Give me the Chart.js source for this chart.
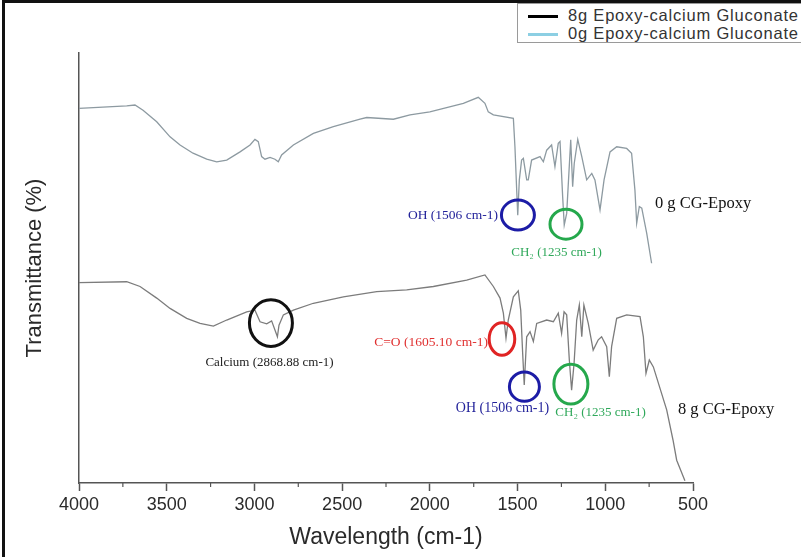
<!DOCTYPE html>
<html>
<head>
<meta charset="utf-8">
<script src="https://cdn.jsdelivr.net/npm/chart.js@4.4.1/dist/chart.umd.min.js"></script>
<style>
  html, body { margin: 0; padding: 0; background: #fff; }
  #wrap { position: relative; width: 801px; height: 557px; overflow: hidden; }
  #frame { position: absolute; left: 2px; top: 0; width: 830px; height: 600px; border-left: 3px solid #111; border-top: 3px solid #111; pointer-events: none; }
  #legend { position: absolute; left: 517px; top: 3px; width: 300px; height: 38px; border: 1px solid #9a9a9a; background: #fff; font: 16.5px "Liberation Sans", Arial, sans-serif; letter-spacing: 0.8px; color: #333; }
  .item { position: absolute; left: 10px; height: 18px; line-height: 18px; white-space: nowrap; }
  .swatch { display: inline-block; width: 30px; height: 3px; vertical-align: middle; margin-right: 10px; }
</style>
</head>
<body>
<div id="wrap">
  <canvas id="ftir" width="801" height="557"></canvas>
  <div id="frame"></div>
  <div id="legend"></div>
</div>
<script>
// 0 g sample (upper trace)
const waves0 = [4000, 3728, 3681, 3635, 3557, 3481, 3424, 3350, 3272, 3215, 3158, 3082, 3025, 2997, 2978, 2959, 2940, 2911, 2883, 2864, 2845, 2778, 2664, 2550, 2398, 2360, 2208, 2113, 2000, 1809, 1724, 1686, 1667, 1638, 1524, 1515, 1505, 1499, 1490, 1477, 1467, 1448, 1439, 1420, 1372, 1353, 1334, 1306, 1287, 1268, 1258, 1243, 1234, 1220, 1197, 1186, 1177, 1157, 1134, 1106, 1077, 1059, 1030, 1007, 973, 935, 878, 850, 831, 821, 806, 792, 764, 736];
const trans0 = [87.1, 87.7, 87.9, 86.7, 84.0, 80.5, 78.6, 76.7, 75.3, 74.7, 75.1, 77.0, 78.6, 79.9, 79.4, 75.9, 75.3, 75.7, 75.3, 74.7, 76.3, 78.6, 81.3, 82.9, 84.6, 85.0, 84.6, 85.6, 86.3, 88.3, 89.7, 88.3, 86.3, 85.6, 84.8, 78.2, 68.1, 62.3, 70.5, 75.1, 75.5, 70.5, 70.5, 75.1, 75.9, 74.7, 77.4, 78.6, 73.6, 79.0, 79.4, 66.6, 60.0, 62.7, 79.8, 68.9, 74.3, 79.9, 75.9, 70.5, 72.0, 70.5, 63.5, 70.5, 77.0, 78.2, 77.8, 76.7, 68.1, 60.4, 64.3, 63.9, 58.1, 51.1];

// 8 g sample (lower trace)
const waves8 = [4000, 3728, 3652, 3557, 3481, 3386, 3310, 3234, 3158, 3044, 2997, 2968, 2930, 2902, 2869, 2860, 2835, 2778, 2664, 2493, 2303, 2132, 1980, 1790, 1686, 1638, 1600, 1581, 1566, 1553, 1524, 1496, 1482, 1471, 1462, 1448, 1429, 1410, 1391, 1334, 1296, 1268, 1249, 1235, 1220, 1205, 1192, 1178, 1163, 1148, 1134, 1122, 1097, 1069, 1040, 1021, 992, 977, 964, 935, 878, 802, 783, 768, 749, 726, 650, 614, 593, 546];
const trans8 = [46.6, 46.8, 45.7, 43.0, 40.6, 38.3, 37.1, 36.5, 37.9, 39.8, 40.2, 37.5, 37.0, 37.7, 34.0, 36.7, 39.1, 40.2, 41.8, 43.3, 44.5, 44.9, 45.7, 47.2, 48.4, 45.7, 43.0, 39.5, 33.7, 37.9, 43.3, 44.7, 40.2, 30.2, 22.8, 34.0, 35.2, 32.9, 37.1, 37.9, 37.5, 39.5, 34.8, 39.8, 39.1, 28.6, 21.6, 27.8, 37.9, 41.4, 34.0, 41.4, 37.1, 30.9, 33.3, 34.0, 31.7, 24.7, 31.7, 38.3, 39.1, 38.7, 34.0, 25.5, 28.6, 27.0, 17.0, 10.0, 5.3, 0.5];

const seriesNames = ["8g Epoxy-calcium Gluconate", "0g Epoxy-calcium Gluconate"];
const legendColors = ["#000000", "#8ccfe3"];
const xTicks = [4000, 3500, 3000, 2500, 2000, 1500, 1000, 500];
const minorTicks = [3750, 3250, 2750, 2250, 1750, 1250, 750];

// peak markers and labels (x in cm-1, y in % units)
const circles = [
  { x: 1498, y: 62.3, rx: 16.5, ry: 15, color: "#1c1ca6" },
  { x: 1224, y: 60.2, rx: 16, ry: 15, color: "#25a84c" },
  { x: 2906, y: 37.2, rx: 21.5, ry: 23.4, color: "#111111" },
  { x: 1589, y: 33.5, rx: 12.8, ry: 16.3, color: "#e02424" },
  { x: 1461, y: 22.4, rx: 15, ry: 14.6, color: "#1c1ca6" },
  { x: 1196, y: 23.0, rx: 17, ry: 19.9, color: "#25a84c" }
];
const labels = [
  { text: "0 g CG-Epoxy", x: 717, y: 64.9, align: "left", color: "#111", size: 16.5 },
  { text: "8 g CG-Epoxy", x: 586, y: 17.0, align: "left", color: "#111", size: 16.5 },
  { text: "OH (1506 cm-1)", x: 1612, y: 62.3, align: "right", color: "#22229a", size: 13.5 },
  { text: "CH\u2082 (1235 cm-1)", x: 1278, y: 53.5, align: "center", color: "#2fa85a", size: 13 },
  { text: "Calcium (2868.88 cm-1)", x: 2914, y: 28.1, align: "center", color: "#222", size: 13 },
  { text: "C=O (1605.10 cm-1)", x: 1669, y: 32.8, align: "right", color: "#e03030", size: 13.5 },
  { text: "OH (1506 cm-1)", x: 1586, y: 17.3, align: "center", color: "#22229a", size: 14 },
  { text: "CH\u2082 (1235 cm-1)", x: 1027, y: 16.3, align: "center", color: "#2fa85a", size: 13 }
];

const toPoints = (xs, ys) => xs.map((w, i) => ({ x: w, y: ys[i] }));

// minor ticks + circles + text
const decor = {
  id: "decor",
  afterDraw(chart) {
    const { ctx, scales: { x, y } } = chart;
    ctx.save();
    ctx.strokeStyle = "#555";
    ctx.lineWidth = 1.2;
    minorTicks.forEach(v => {
      const px = x.getPixelForValue(v);
      ctx.beginPath();
      ctx.moveTo(px, y.bottom);
      ctx.lineTo(px, y.bottom + 4);
      ctx.stroke();
    });
    ctx.lineWidth = 3;
    circles.forEach(c => {
      ctx.strokeStyle = c.color;
      ctx.beginPath();
      ctx.ellipse(x.getPixelForValue(c.x), y.getPixelForValue(c.y), c.rx, c.ry, 0, 0, Math.PI * 2);
      ctx.stroke();
    });
    ctx.textBaseline = "middle";
    labels.forEach(l => {
      ctx.fillStyle = l.color;
      ctx.textAlign = l.align;
      ctx.font = l.size + 'px "Liberation Serif", "Times New Roman", serif';
      ctx.fillText(l.text, x.getPixelForValue(l.x), y.getPixelForValue(l.y));
    });
    ctx.restore();
  }
};

const chart = new Chart(document.getElementById("ftir"), {
  type: "line",
  data: {
    datasets: [
      { label: seriesNames[0], data: toPoints(waves8, trans8), borderColor: "#7c7c7c", borderWidth: 1.3, pointRadius: 0, tension: 0 },
      { label: seriesNames[1], data: toPoints(waves0, trans0), borderColor: "#8d9aa1", borderWidth: 1.3, pointRadius: 0, tension: 0 }
    ]
  },
  options: {
    responsive: false,
    animation: false,
    layout: { padding: { left: 0, top: 53, right: 108, bottom: 0 } },
    plugins: { legend: { display: false }, tooltip: { enabled: false } },
    scales: {
      x: {
        type: "linear",
        reverse: true,
        min: 500,
        max: 4000,
        afterBuildTicks: s => { s.ticks = xTicks.map(v => ({ value: v })); },
        afterFit: s => { s.height = 74; },
        border: { color: "#555", width: 1.5 },
        grid: { drawOnChartArea: false, tickLength: 8, tickColor: "#555", tickWidth: 1.5 },
        ticks: { color: "#2a2a2a", padding: 3, maxRotation: 0, callback: v => String(v), font: { family: "Liberation Sans", size: 18 } },
        title: { display: true, text: "Wavelength (cm-1)", color: "#2a2a2a", padding: { top: 0, bottom: 6 }, font: { family: "Liberation Sans", size: 23 } }
      },
      y: {
        min: 0,
        max: 100,
        afterFit: s => { s.width = 79; },
        border: { color: "#555", width: 1.5 },
        grid: { display: false },
        ticks: { display: false },
        title: { display: true, text: "Transmittance (%)", color: "#2a2a2a", padding: { top: 22, bottom: 0 }, font: { family: "Liberation Sans", size: 22 } }
      }
    }
  },
  plugins: [decor]
});

// boxed legend in the top-right corner
const legend = document.getElementById("legend");
seriesNames.forEach((name, i) => {
  const row = document.createElement("div");
  row.className = "item";
  row.style.top = (2 + i * 18) + "px";
  row.innerHTML = '<span class="swatch" style="background:' + legendColors[i] + '"></span>' + name;
  legend.appendChild(row);
});
</script>
</body>
</html>
